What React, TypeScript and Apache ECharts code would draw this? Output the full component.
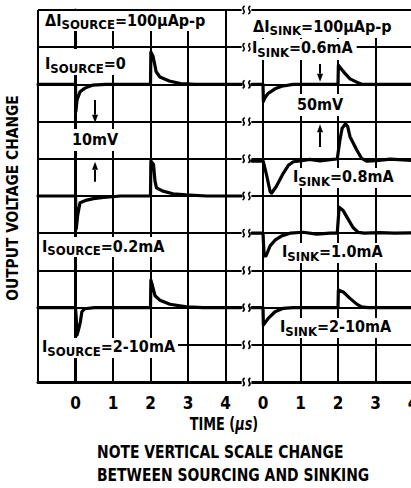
import React, { useEffect, useRef } from "react";
import * as echarts from "echarts";

const FONT =
  "'Liberation Sans Narrow', 'DejaVu Sans Condensed', 'Roboto Condensed', 'Liberation Sans', sans-serif";

// ---- axes ----
const timeTicks = [0, 1, 2, 3, 4]; // µs
const divisionCount = 10;

// ---- scales (mV per division) ----
const sourceScale = 10;
const sinkScale = 50;

// ---- sourcing traces (mV vs µs) ----
const sourceT0 = [-1, 0, 0.01, 0.04, 0.12, 0.25, 0.45, 0.8, 2.0, 2.01, 2.07, 2.12, 2.15, 2.25, 2.5, 2.8, 3.2, 4.42];
const sourceV0 = [0, 0, -7.3, -4.2, -2, -1, -0.2, 0, 0, 8.7, 7.5, 5, 3.4, 2, 0.9, 0.2, 0, 0];

const sourceT1 = [-1, 0, 0.02, 0.06, 0.12, 0.3, 0.48, 0.75, 1.2, 2.0, 2.01, 2.08, 2.12, 2.16, 2.33, 2.6, 2.95, 3.5, 4.42];
const sourceV1 = [0, 0, -8.8, -5, -1.8, -1.1, -0.7, -0.4, 0, 0, 9.4, 8.5, 4, 2.2, 1.3, 0.6, 0.3, 0, 0];

const sourceT2 = [-1, 0, 0.02, 0.04, 0.08, 0.13, 0.17, 0.25, 0.5, 2.0, 2.01, 2.05, 2.12, 2.25, 2.52, 2.96, 3.4, 4.42];
const sourceV2 = [0, 0, -3, -7.4, -6, -3.8, -1.1, -0.3, 0, 0, 7.4, 6, 3.2, 2, 0.9, 0.2, 0, 0];

// ---- sinking traces (mV vs µs) ----
const sinkT0 = [-0.3, 0, 0.01, 0.05, 0.14, 0.32, 0.5, 0.8, 2.0, 2.01, 2.05, 2.19, 2.32, 2.5, 2.65, 4];
const sinkV0 = [0, 0, -23, -18, -12, -6, -2.5, 0, 0, 26, 23, 14.5, 7.5, 3, 0, 0];

const sinkT1 = [-0.3, 0, 0.01, 0.1, 0.19, 0.23, 0.35, 0.54, 0.68, 0.81, 0.99, 1.25, 1.52, 1.79, 1.98, 2.05, 2.11, 2.2, 2.26, 2.32, 2.5, 2.63, 2.76, 3.03, 3.39, 3.73, 4];
const sinkV1 = [0, 0, -1, -20, -41, -43, -34.5, -16.5, -5.4, -1, 0, 2.3, 0, 2, 2.7, 28, 44, 50, 46, 32.7, 14.8, 3.6, 0, 0.5, 2.6, 1.6, 0.5];

const sinkT2 = [-0.3, 0, 0.03, 0.08, 0.19, 0.32, 0.5, 0.72, 1.07, 1.43, 1.79, 1.98, 2.03, 2.13, 2.27, 2.4, 2.54, 2.7, 3.1, 3.5, 4];
const sinkV2 = [0, 0, -30.5, -30.5, -17, -9.4, -3.6, 0, 1.3, -1.3, 0, 0, 35, 31, 19, 7.7, 1, 0, 0.8, 0, 0.5];

const sinkT3 = [-0.3, 0, 0.01, 0.14, 0.32, 0.54, 0.8, 2.0, 2.01, 2.14, 2.32, 2.5, 2.63, 2.8, 4];
const sinkV3 = [0, 0, -23.5, -14.5, -5.6, -1, 0, 0, 23.5, 21, 12.4, 4.7, 1, 0, 0];

// trace baselines (screen divisions)
const sourceBase = [8, 5, 2];
const sinkBase = [8, 5.94, 4, 2];

// labels: panel, time, division, text, padding
const labelPanel = [0, 0, 0, 0, 0, 1, 1, 1, 1, 1, 1];
const labelT = [-0.813, -0.813, -0.093, -0.893, -0.893, -0.267, -0.293, 0.907, 0.8, 0.507, 0.453];
const labelD = [9.704, 8.522, 6.505, 3.629, 0.914, 9.543, 8.952, 7.446, 5.484, 3.468, 1.452];
const labelText = [
  "{m|ΔI}{s|SOURCE}{m|=100µAp-p}",
  "{m|I}{s|SOURCE}{m|=0}",
  "{m|10mV}",
  "{m|I}{s|SOURCE}{m|=0.2mA}",
  "{m|I}{s|SOURCE}{m|=2-10mA}",
  "{m|ΔI}{s|SINK}{m|=100µAp-p}",
  "{m|I}{s|SINK}{m|=0.6mA}",
  "{m|50mV}",
  "{m|I}{s|SINK}{m|=0.8mA}",
  "{m|I}{s|SINK}{m|=1.0mA}",
  "{m|I}{s|SINK}{m|=2-10mA}",
];
const labelPad = [
  [1, 8, 1, 5],
  [7, 10, 1, 5],
  [2, 2, 2, 2],
  [1, 3, 1, 3],
  [1, 3, 1, 3],
  [7, 3, 2, 2],
  [1, 4, 2, 1],
  [2, 2, 2, 2],
  [1, 3, 1, 3],
  [1, 3, 1, 3],
  [1, 3, 1, 3],
];

// arrows: panel, time, tail division, tip division
const arrowPanel = [0, 0, 1, 1];
const arrowT = [0.52, 0.52, 1.52, 1.52];
const arrowTail = [7.58, 5.38, 8.55, 6.32];
const arrowTip = [6.97, 5.92, 8.07, 6.93];

const noteLines = ["NOTE VERTICAL SCALE CHANGE", "BETWEEN SOURCING AND SINKING"];

function traceSeries(T: number[], V: number[], base: number, scale: number, idx: number) {
  return {
    type: "line",
    xAxisIndex: idx,
    yAxisIndex: idx,
    data: T.map((t, i) => [t, base + V[i] / scale]),
    showSymbol: false,
    symbol: "none",
    silent: true,
    z: 3,
    lineStyle: { color: "#000", width: 3.2, join: "round", cap: "round" },
  };
}

const lineCol = "#000";

function xAxisOpt(idx: number, min: number, max: number) {
  return {
    type: "value",
    gridIndex: idx,
    min,
    max,
    interval: 1,
    axisLine: { show: true, onZero: false, lineStyle: { color: lineCol, width: 3 } },
    axisTick: { show: false },
    axisLabel: {
      formatter: (v: number) => (timeTicks.indexOf(v) >= 0 ? String(v) : ""),
      fontSize: 17,
      fontWeight: "bold",
      fontFamily: FONT,
      color: "#000",
      margin: 12,
      showMinLabel: false,
      showMaxLabel: idx === 1,
    },
    splitLine: {
      show: true,
      showMinLine: idx === 0,
      showMaxLine: idx === 1,
      lineStyle: { color: lineCol, width: 2 },
    },
  };
}

function yAxisOpt(idx: number) {
  return {
    type: "value",
    gridIndex: idx,
    min: 0,
    max: divisionCount,
    interval: 1,
    axisLine: { show: idx === 0, lineStyle: { color: lineCol, width: 3 } },
    axisTick: { show: false },
    axisLabel: { show: false },
    splitLine: { show: true, lineStyle: { color: lineCol, width: 2 } },
  };
}

export default function App() {
  const ref = useRef<HTMLDivElement>(null);
  useEffect(() => {
    const chart = echarts.init(ref.current!, null, { renderer: "svg" });
    const series = [
      traceSeries(sourceT0, sourceV0, sourceBase[0], sourceScale, 0),
      traceSeries(sourceT1, sourceV1, sourceBase[1], sourceScale, 0),
      traceSeries(sourceT2, sourceV2, sourceBase[2], sourceScale, 0),
      traceSeries(sinkT0, sinkV0, sinkBase[0], sinkScale, 1),
      traceSeries(sinkT1, sinkV1, sinkBase[1], sinkScale, 1),
      traceSeries(sinkT2, sinkV2, sinkBase[2], sinkScale, 1),
      traceSeries(sinkT3, sinkV3, sinkBase[3], sinkScale, 1),
    ];
    chart.setOption({
      animation: false,
      backgroundColor: "#fff",
      grid: [
        { left: 38, top: 10, width: 206.25, height: 372 },
        { left: 225.5, top: 10, width: 187.5, height: 372 },
      ],
      xAxis: [xAxisOpt(0, -1, 4.5), xAxisOpt(1, -1, 4)],
      yAxis: [yAxisOpt(0), yAxisOpt(1)],
      series,
    });

    const P = (g: number, t: number, d: number) =>
      chart.convertToPixel({ xAxisIndex: g, yAxisIndex: g } as any, [t, d]) as number[];

    const rich = {
      m: { fontSize: 16, fontWeight: "bold", fontFamily: FONT, lineHeight: 18, verticalAlign: "top", fill: "#000" },
      s: { fontSize: 13, fontWeight: "bold", fontFamily: FONT, lineHeight: 18, verticalAlign: "top", padding: [6, 0, 0, 0], fill: "#000" },
    };

    const graphic: any[] = [];

    // break gap between the two panels
    const gx0 = P(0, 4.43, 0)[0];
    const gx1 = P(1, -0.31, 0)[0];
    const yTop = P(0, 0, divisionCount)[1];
    const yBot = P(0, 0, 0)[1];
    graphic.push({
      type: "rect",
      z: 1,
      shape: { x: gx0, y: yTop - 4, width: gx1 - gx0, height: yBot - yTop + 8 },
      style: { fill: "#fff" },
    });
    for (let d = 0; d <= divisionCount; d++) {
      const y = P(0, 0, d)[1];
      [gx0 + 2, gx1 - 2].forEach((x0) => {
        graphic.push({
          type: "bezierCurve",
          z: 4,
          shape: { x1: x0 - 1, y1: y + 4, cpx1: x0 + 4, cpy1: y + 1, cpx2: x0 - 4, cpy2: y - 1, x2: x0 + 1, y2: y - 4 },
          style: { stroke: "#000", lineWidth: 1.6, fill: null },
        });
      });
    }

    // labels
    labelText.forEach((txt, i) => {
      const p = P(labelPanel[i], labelT[i], labelD[i]);
      const pad = labelPad[i];
      graphic.push({
        type: "text",
        z: 2,
        x: p[0] - pad[3],
        y: p[1] - 9 - pad[0],
        style: {
          text: txt,
          rich,
          fontSize: 16,
          fontWeight: "bold",
          fontFamily: FONT,
          fill: "#000",
          align: "left",
          verticalAlign: "top",
          backgroundColor: "#fff",
          padding: pad,
        },
      });
    });

    // arrows
    arrowT.forEach((t, i) => {
      const a = P(arrowPanel[i], t, arrowTail[i]);
      const b = P(arrowPanel[i], t, arrowTip[i]);
      const dir = b[1] > a[1] ? 1 : -1;
      const hb = b[1] - dir * 8;
      graphic.push({
        type: "line",
        z: 4,
        shape: { x1: a[0], y1: a[1], x2: b[0], y2: hb },
        style: { stroke: "#000", lineWidth: 2 },
      });
      graphic.push({
        type: "polygon",
        z: 4,
        shape: { points: [[b[0] - 3, hb], [b[0] + 3, hb], [b[0], b[1]]] },
        style: { fill: "#000" },
      });
    });

    // titles
    graphic.push({
      type: "text",
      x: 12,
      y: 198,
      rotation: Math.PI / 2,
      scaleX: 0.96,
      style: {
        text: "OUTPUT VOLTAGE CHANGE",
        fontSize: 16,
        fontWeight: "bold",
        fontFamily: FONT,
        fill: "#000",
        align: "center",
        verticalAlign: "middle",
      },
    });
    graphic.push({
      type: "text",
      x: 224,
      y: 424,
      scaleX: 0.84,
      style: {
        text: "{a|TIME (}{b|µs}{a|)}",
        rich: {
          a: { fontSize: 17, fontWeight: "bold", fontFamily: FONT, fill: "#000" },
          b: { fontSize: 17, fontWeight: "bold", fontStyle: "italic", fontFamily: FONT, fill: "#000" },
        },
        align: "center",
        verticalAlign: "middle",
      },
    });
    noteLines.forEach((s, i) => {
      graphic.push({
        type: "text",
        x: 97,
        y: 452 + i * 23,
        scaleX: 0.91,
        style: {
          text: s,
          fontSize: 17,
          fontWeight: "bold",
          fontFamily: FONT,
          fill: "#000",
          align: "left",
          verticalAlign: "middle",
        },
      });
    });

    chart.setOption({ graphic });
    return () => chart.dispose();
  }, []);
  return (
    <div
      style={{
        position: "fixed",
        left: 0,
        top: 0,
        width: 411,
        height: 488,
        overflow: "hidden",
        background: "#fff",
      }}
    >
      <div ref={ref} style={{ width: 430, height: 488 }} />
    </div>
  );
}
